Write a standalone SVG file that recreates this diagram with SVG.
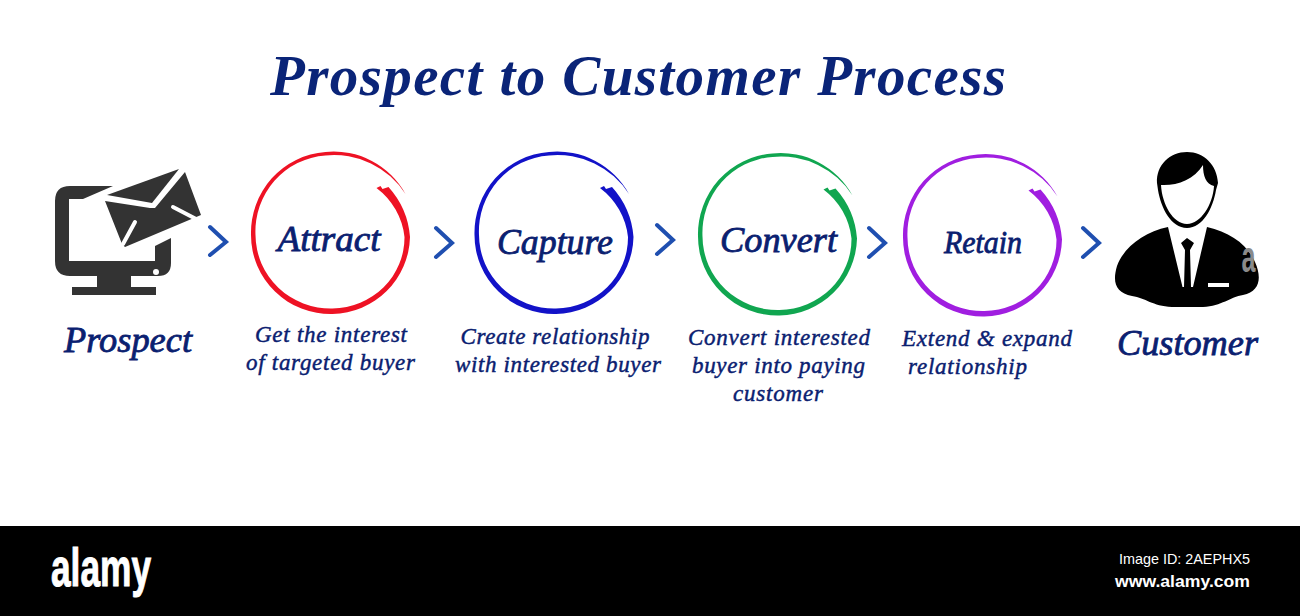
<svg xmlns="http://www.w3.org/2000/svg" width="1300" height="616" viewBox="0 0 1300 616">
<style>
text{font-family:"Liberation Serif","Times New Roman",serif;font-style:italic;font-weight:700;fill:#0a2070;text-anchor:middle}
.title{font-size:57px;fill:#0a2478;stroke:none}
.big{font-size:36px;font-weight:400;stroke:#0a2070;stroke-width:.8px}
.ring{font-size:35px;font-weight:400;stroke:#0a2070;stroke-width:.8px}
.sub{font-size:23px;font-weight:400;stroke:#0a2070;stroke-width:.45px}
.chev{fill:none;stroke:#1f4fb0;stroke-width:4;stroke-linecap:round;stroke-linejoin:miter}
.wm{font-family:"Liberation Sans",Arial,sans-serif;font-style:normal;fill:#fff}
</style>
<defs>
<path id="swoosh" d="M75 -39A82 82 0 0 0 -5 -81A80 81 0 0 0 -79.500 2A79.500 79 0 0 0 2 81A79 79 0 0 0 79.500 4A84 84 0 0 0 58 -46L52 -44L50 -47L46 -45A71 71 0 0 1 74 4A73 71 0 0 1 2 75.500A75 74 0 0 1 -75 2A75 76 0 0 1 -5 -77.500A85 85 0 0 1 75 -39Z"/>
</defs>
<rect width="1300" height="616" fill="#fff"/>
<text id="title" class="title" x="638" y="95" textLength="736" lengthAdjust="spacing">Prospect to Customer Process</text>

<g id="prospect">
<path fill="#333" d="M113 186H70Q55 186 55 201V261Q55 276 70 276H97V287H72V295H156V287H131V276H158Q171 276 171 263V238L155 246V261H69V199H83Z"/>
<circle cx="156" cy="272" r="3" fill="#fff"/>
<path fill="#333" d="M107 195L179 169L152 203Z"/>
<path fill="#333" d="M105 201L150 208L155 208L185 172L201 215L125 247L122 244Z"/>
<path fill="none" stroke="#fff" stroke-width="4" stroke-linecap="round" d="M173 207L198 220M135 222L123 244"/>
<text class="big" x="128" y="352" textLength="128" lengthAdjust="spacingAndGlyphs">Prospect</text>
</g>

<g id="attract">
<use href="#swoosh" transform="translate(330.500 233)" fill="#ee1224"/>
<text class="ring" x="329" y="251" textLength="103" lengthAdjust="spacingAndGlyphs">Attract</text>
<text class="sub" x="331" y="342" textLength="152">Get the interest</text>
<text class="sub" x="330.500" y="370" textLength="169">of targeted buyer</text>
</g>

<g id="capture">
<use href="#swoosh" transform="translate(554 233)" fill="#1212c8"/>
<text class="ring" x="555" y="254" textLength="116" lengthAdjust="spacingAndGlyphs">Capture</text>
<text class="sub" x="555" y="344" textLength="189">Create relationship</text>
<text class="sub" x="558" y="372" textLength="206">with interested buyer</text>
</g>

<g id="convert">
<use href="#swoosh" transform="translate(777.500 234.500)" fill="#10a650"/>
<text class="ring" x="778.500" y="252" textLength="117" lengthAdjust="spacingAndGlyphs">Convert</text>
<text class="sub" x="779" y="345" textLength="182">Convert interested</text>
<text class="sub" x="778.500" y="373" textLength="173">buyer into paying</text>
<text class="sub" x="778" y="401" textLength="90">customer</text>
</g>

<g id="retain">
<use href="#swoosh" transform="translate(982.500 235.500)" fill="#a01ee0"/>
<text class="ring" x="983" y="253" style="font-size:32px" textLength="78" lengthAdjust="spacingAndGlyphs">Retain</text>
<text class="sub" x="987" y="346" textLength="170">Extend &amp; expand</text>
<text class="sub" x="967.500" y="374" textLength="119">relationship</text>
</g>

<g id="customer">
<path fill="#000" d="M1157 183C1156 165 1170 152 1187 152C1204 152 1217 165 1218 183L1216 190C1213 208 1203 228 1187 228C1171 228 1161 208 1158 190Z"/>
<path fill="#fff" d="M1161 185C1176 186 1194 180 1203 165C1203 176 1206 184 1214 186C1213 204 1201 224 1187 224C1173 224 1162 204 1161 185Z"/>
<path fill="#000" d="M1168 227L1182.500 287H1193L1207 227C1230 232 1248 245 1255 262C1262 278 1260 291 1243 295C1230 297 1222 306 1203 307H1172C1152 306 1146 298 1132 296C1116 293 1112 283 1117 266C1124 247 1144 232 1168 227Z"/>
<path fill="#000" d="M1181 243L1187 238L1194 243L1190 250L1191 287H1184L1185 250Z"/>
<rect x="1208" y="283" width="21" height="4" fill="#fff"/>
<text x="1248.500" y="272" textLength="14" lengthAdjust="spacingAndGlyphs" style="font-family:'Liberation Sans',Arial,sans-serif;font-style:normal;font-size:44px;fill:#8a8a8a">a</text>
<text class="big" x="1187.500" y="355" style="font-size:35.500px" textLength="141" lengthAdjust="spacingAndGlyphs">Customer</text>
</g>

<g id="connectors">
<path class="chev" d="M210 227L226 242L210 255"/>
<path class="chev" d="M436 228L452 243L436 257"/>
<path class="chev" d="M657 225L673 240L657 254"/>
<path class="chev" d="M869 228L885 243L869 257"/>
<path class="chev" d="M1083 228L1099 243L1083 257"/>
</g>

<rect x="0" y="526" width="1300" height="90" fill="#000"/>
<text class="wm" x="101" y="586" style="font-size:54px;font-weight:700;stroke:#fff;stroke-width:1px" textLength="100" lengthAdjust="spacingAndGlyphs">alamy</text>
<text class="wm" x="1184.500" y="564" style="font-size:15px;font-weight:400" textLength="131" lengthAdjust="spacingAndGlyphs">Image ID: 2AEPHX5</text>
<text class="wm" x="1182.500" y="587" style="font-size:17px;font-weight:700" textLength="135" lengthAdjust="spacingAndGlyphs">www.alamy.com</text>
</svg>
